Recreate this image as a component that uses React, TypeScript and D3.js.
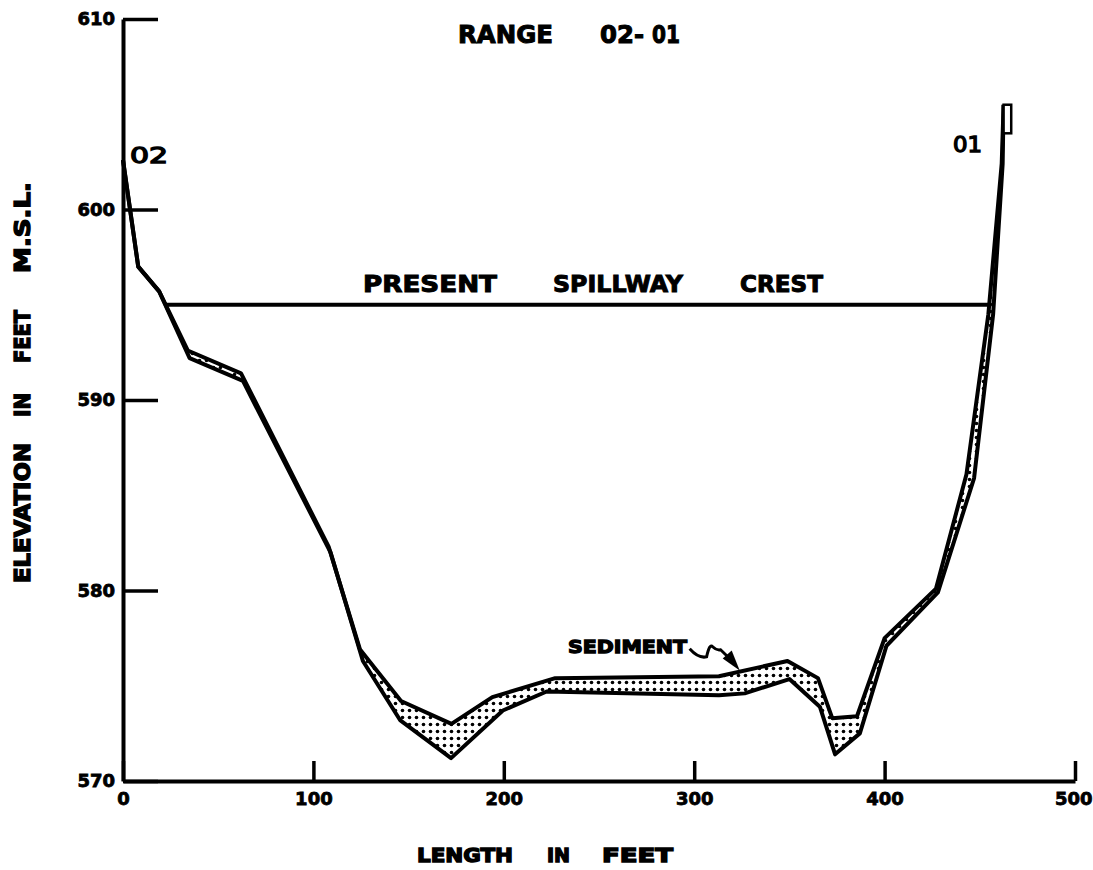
import { useEffect, useRef } from "react";
import * as d3 from "d3";

// axis ticks
const xTicks = [0, 100, 200, 300, 400, 500];
const yTicks = [570, 580, 590, 600, 610];

// [station ft, elevation ft] - top of sediment (present bed)
const sedimentSurface: [number, number][] = [
  [0, 602.6], [8, 597.0], [19, 595.7], [34, 592.6], [62, 591.4], [108, 582.3],
  [124.5, 576.9], [146, 574.2], [172.5, 573.0], [194, 574.4], [227, 575.4],
  [313, 575.5], [349, 576.3], [365, 575.4], [372.5, 573.3], [385.5, 573.4],
  [400, 577.5], [427, 580.1], [443, 586.1], [454.5, 594.5], [461.5, 602.4],
  [462.5, 605.5],
];

// original bottom of the range
const originalBottom: [number, number][] = [
  [0, 602.6], [8, 597.0], [19, 595.7], [35, 592.2], [63, 591.0], [109, 582.0],
  [126, 576.3], [145.5, 573.2], [172.3, 571.2], [199.5, 573.7], [222.5, 574.7],
  [313, 574.5], [326.5, 574.6], [350, 575.35], [366, 573.9], [374, 571.4],
  [387, 572.5], [401, 577.1], [428, 579.9], [447, 585.9], [457, 594.5],
  [462, 602.4], [462.5, 605.5],
];

const crestElevation = 595.0;
const crestStations = [22, 456];
const monument = { x0: 462.5, x1: 466.5, top: 605.5, bottom: 604.0 };

const W = 1093;
const H = 870;
const FONT = "'DejaVu Sans', sans-serif";

function App() {
  const ref = useRef<SVGSVGElement>(null);

  useEffect(() => {
    const svg = d3.select(ref.current);
    svg.selectAll("*").remove();

    const x = d3.scaleLinear().domain([0, 500]).range([123, 1075]);
    const y = d3.scaleLinear().domain([570, 610]).range([781, 19]);

    const defs = svg.append("defs");
    const pat = defs
      .append("pattern")
      .attr("id", "dots")
      .attr("patternUnits", "userSpaceOnUse")
      .attr("width", 7)
      .attr("height", 7);
    pat.append("rect").attr("width", 7).attr("height", 7).attr("fill", "#fff");
    pat.append("circle").attr("cx", 3.5).attr("cy", 3.5).attr("r", 1.8).attr("fill", "#000");

    const label = (
      tx: number,
      ty: number,
      text: string,
      size: number,
      len?: number,
      anchor = "start"
    ) => {
      const t = svg
        .append("text")
        .attr("x", tx)
        .attr("y", ty)
        .attr("font-family", FONT)
        .attr("font-weight", "bold")
        .attr("font-size", size)
        .attr("text-anchor", anchor)
        .attr("dominant-baseline", "central")
        .attr("stroke", "#000")
        .attr("stroke-width", 1)
        .text(text);
      if (len) t.attr("textLength", len).attr("lengthAdjust", "spacingAndGlyphs");
      return t;
    };

    // axes
    const xAxis = d3
      .axisBottom(x)
      .tickValues(xTicks)
      .tickSize(-20)
      .tickSizeOuter(0)
      .tickPadding(11);
    const gx = svg.append("g").attr("transform", `translate(0,${y(570)})`).call(xAxis);

    const yAxis = d3
      .axisLeft(y)
      .tickValues(yTicks)
      .tickSize(-35)
      .tickSizeOuter(0)
      .tickPadding(8);
    const gy = svg.append("g").attr("transform", `translate(${x(0)},0)`).call(yAxis);

    [gx, gy].forEach((g) => {
      g.select(".domain").attr("stroke-width", 4);
      g.selectAll(".tick line").attr("stroke-width", 3.5);
      g.selectAll(".tick text")
        .attr("font-family", FONT)
        .attr("font-weight", "bold")
        .attr("font-size", 18)
        .attr("stroke", "#000")
        .attr("stroke-width", 0.8);
    });
    // keep the last label inside the page
    gx.selectAll<SVGTextElement, number>(".tick text")
      .filter((d) => d === 500)
      .attr("text-anchor", "end")
      .attr("dx", 17);

    // sediment band
    const line = d3
      .line<[number, number]>()
      .x((d) => x(d[0]))
      .y((d) => y(d[1]));

    svg
      .append("path")
      .attr("d", line([...sedimentSurface, ...originalBottom.slice().reverse()]) + "Z")
      .attr("fill", "url(#dots)")
      .attr("stroke", "none");

    [originalBottom, sedimentSurface].forEach((pts) => {
      svg
        .append("path")
        .attr("d", line(pts))
        .attr("fill", "none")
        .attr("stroke", "#000")
        .attr("stroke-width", 4)
        .attr("stroke-linejoin", "round");
    });

    // spillway crest
    svg
      .append("line")
      .attr("x1", x(crestStations[0]))
      .attr("x2", x(crestStations[1]))
      .attr("y1", y(crestElevation))
      .attr("y2", y(crestElevation))
      .attr("stroke", "#000")
      .attr("stroke-width", 4);

    // range end monument
    svg
      .append("rect")
      .attr("x", x(monument.x0))
      .attr("y", y(monument.top))
      .attr("width", x(monument.x1) - x(monument.x0))
      .attr("height", y(monument.bottom) - y(monument.top))
      .attr("fill", "#fff")
      .attr("stroke", "#000")
      .attr("stroke-width", 2.5);

    // sediment pointer
    const sx = x(297.6);
    const sy = y(576.94);
    const tipX = x(323.9);
    const tipY = y(575.8);
    svg
      .append("path")
      .attr(
        "d",
        `M${sx},${sy} Q${sx + 9},${sy + 10} ${sx + 17},${sy + 8} Q${sx + 20},${sy - 6} ${sx + 23},${sy - 2} Q${sx + 27},${sy + 2} ${sx + 31},${sy + 1} L${tipX - 6},${tipY - 8}`
      )
      .attr("fill", "none")
      .attr("stroke", "#000")
      .attr("stroke-width", 3);
    svg
      .append("path")
      .attr(
        "d",
        `M${tipX},${tipY} L${tipX - 17},${tipY - 12} L${tipX - 8},${tipY - 20} Z`
      )
      .attr("fill", "#000");

    // texts
    label(458, 35, "RANGE", 24, 95);
    label(600, 35, "02-", 24, 44);
    label(652, 35, "01", 24, 28);

    const crestY = y(crestElevation) - 21;
    label(363, crestY, "PRESENT", 23, 134);
    label(553, crestY, "SPILLWAY", 23, 130);
    label(740, crestY, "CREST", 23, 83);

    label(130, 155, "02", 22, 38).attr("font-weight", "normal").attr("stroke-width", 1.4);
    label(953, 144, "01", 22, 29).attr("font-weight", "normal").attr("stroke-width", 1.4);

    label(568, 646, "SEDIMENT", 18, 119).attr("stroke-width", 1.3);

    label(417, 855, "LENGTH", 20, 96).attr("stroke-width", 1.4);
    label(547, 855, "IN", 20, 23).attr("stroke-width", 1.4);
    label(602, 855, "FEET", 20, 71).attr("stroke-width", 1.4);

    const yt = svg.append("g").attr("transform", "translate(22,0) rotate(-90)");
    const vLabel = (y0: number, y1: number, text: string) =>
      yt
        .append("text")
        .attr("x", -y1)
        .attr("y", 0)
        .attr("font-family", FONT)
        .attr("font-weight", "bold")
        .attr("font-size", 22)
        .attr("dominant-baseline", "central")
        .attr("stroke", "#000")
        .attr("stroke-width", 1.4)
        .attr("textLength", y1 - y0)
        .attr("lengthAdjust", "spacingAndGlyphs")
        .text(text);
    vLabel(443, 583, "ELEVATION");
    vLabel(393, 417, "IN");
    vLabel(310, 363, "FEET");
    vLabel(182, 273, "M.S.L.");
  }, []);

  return (
    <svg
      ref={ref}
      width={W}
      height={H}
      style={{ position: "absolute", left: 0, top: 0, background: "#fff" }}
    />
  );
}

export default App;
